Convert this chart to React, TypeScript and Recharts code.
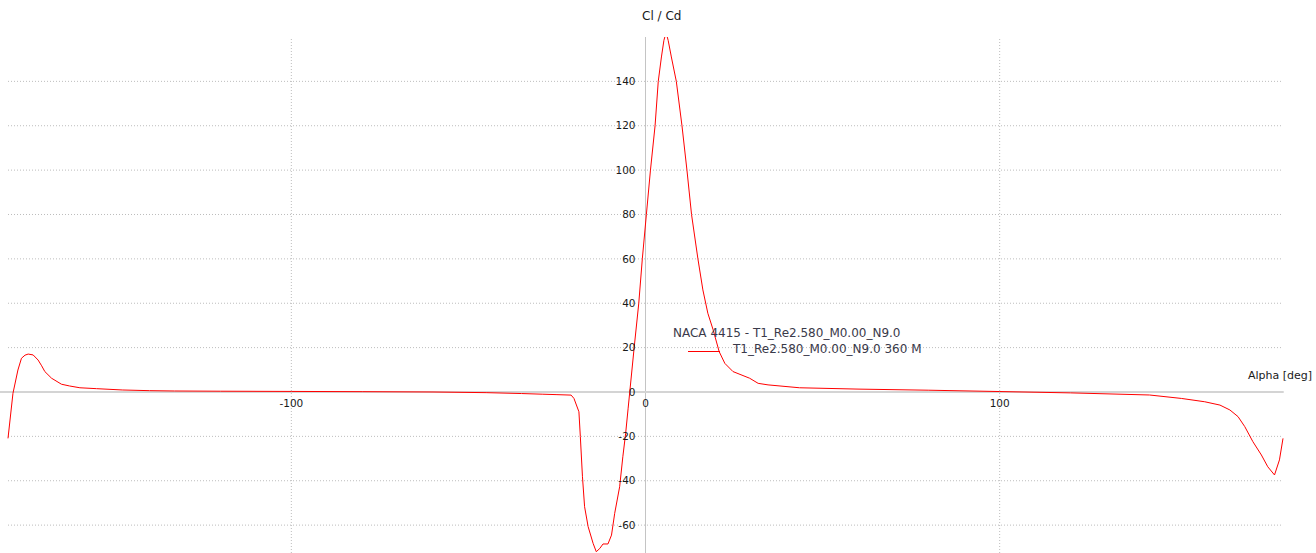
import React from 'react'
import { Line, LineChart, ReferenceDot, ReferenceLine, XAxis, YAxis } from 'recharts'

const alpha = [
    -180, -178.6, -177.2, -176.2, -175.2, -174.3, -172.9, -171.5, -170.5, -169.6, -167.7, -164.9, -162.6, -159.7, -155, -147.6,
    -140, -133, -120, -100, -80, -60, -45, -35, -29, -25, -21, -20.2, -18.8, -18.4, -17.8, -17.2, -16.2,
    -14.8, -13.9, -12.9, -12, -10.6, -9.6, -8.7, -7.3, -6.4, -5.6, -4.9, -3.2, -1.9, -0.9, 0.25, 1.4,
    2.7, 3.6, 4.5, 5.2, 5.8, 6.4, 7.3, 8.7, 10.3, 11.7, 13, 14.8, 16.2, 17.6, 19.1, 20.8, 22.4, 24.7,
    29.4, 31.8, 34.6, 43.5, 60, 80, 100, 120, 142.3, 151.3, 157.9, 162.2, 165, 167.3, 169.2, 171.5, 173.9,
    175.7, 177.6, 179, 180,
]
const clcd = [
    -20.9, -0.6, 9.9, 15.2, 16.6, 17.1, 16.7, 14.4, 11.8, 9.2, 6.2, 3.5, 2.7, 1.9, 1.5, 0.9,
    0.6, 0.45, 0.35, 0.25, 0.15, 0, -0.3, -0.7, -1.0, -1.2, -1.4, -2.9, -8.9, -20.1, -38.2, -51.7, -60.7,
    -68.2, -72, -70.5, -68.5, -68.5, -64.5, -54.7, -42.7, -29.2, -18.6, -7.3, 20, 40, 60, 80, 100,
    120, 140, 151, 158.5, 162, 158.5, 151, 140, 120, 100, 80, 60, 46, 35.5, 28, 18.2, 12.9, 9.2,
    6.2, 3.9, 3.2, 1.9, 1.3, 0.8, 0.2, -0.4, -1.35, -2.9, -4.4, -5.9, -8.1, -11.1, -15.6, -22.4, -28.4,
    -33.7, -37.4, -30.6, -20.9,
]
const yTicks = [-60, -40, -20, 0, 20, 40, 60, 80, 100, 120, 140]
const xTicks = [-100, 0, 100]
const xGrid = [-100, 100]

const data = alpha.map((a, i) => ({ alpha: a, clcd: clcd[i] }))

const FONT = 'Tahoma, "DejaVu Sans", sans-serif'
const GRID = '#bdbdbd'

const App: React.FC = () => {
    return (
        <div style={{ position: 'fixed', left: 0, top: 0, width: 1316, height: 553, background: '#fff' }}>
            <LineChart
                width={1316}
                height={553}
                data={data}
                margin={{ top: 37, right: 33, left: 8, bottom: 0 }}
            >
                <XAxis dataKey="alpha" type="number" domain={[-180, 180]} hide />
                <YAxis type="number" domain={[-72.57, 160]} allowDataOverflow hide />
                {yTicks.filter(v => v !== 0).map(v => (
                    <ReferenceLine key={`gy${v}`} y={v} stroke={GRID} strokeDasharray="1 2" />
                ))}
                {xGrid.map(v => (
                    <ReferenceLine key={`gx${v}`} x={v} stroke={GRID} strokeDasharray="1 2" />
                ))}
                <ReferenceLine x={0} stroke="#c4c4c4" />
                <ReferenceLine
                    segment={[{ x: -182.3, y: 0 }, { x: 180.2, y: 0 }]}
                    ifOverflow="visible"
                    stroke="#d4d4d4"
                    strokeWidth={2}
                />
                {yTicks.map(v => (
                    <ReferenceDot
                        key={`ly${v}`}
                        x={0}
                        y={v}
                        r={0}
                        stroke="none"
                        label={{ value: String(v), position: 'left', offset: 10, fontSize: 10.5, fill: '#1a1a1a', fontFamily: FONT }}
                    />
                ))}
                {xTicks.map(v => (
                    <ReferenceDot
                        key={`lx${v}`}
                        x={v}
                        y={0}
                        r={0}
                        stroke="none"
                        label={{ value: String(v), position: 'bottom', offset: 8, fontSize: 10.5, fill: '#1a1a1a', fontFamily: FONT }}
                    />
                ))}
                <Line
                    type="linear"
                    dataKey="clcd"
                    stroke="#ff0000"
                    strokeWidth={1}
                    dot={false}
                    isAnimationActive={false}
                />
            </LineChart>
            <div style={{ position: 'absolute', left: 642, top: 9, fontFamily: FONT, fontSize: 12, color: '#1a1a1a' }}>Cl / Cd</div>
            <div style={{ position: 'absolute', left: 1248, top: 369, fontFamily: FONT, fontSize: 11, color: '#1a1a1a' }}>Alpha [deg]</div>
            <div style={{ position: 'absolute', left: 673, top: 326, fontFamily: '"DejaVu Sans", sans-serif', fontSize: 12, color: '#3a3a4a', whiteSpace: 'nowrap' }}>
                NACA 4415 - T1_Re2.580_M0.00_N9.0
            </div>
            <div style={{ position: 'absolute', left: 688, top: 351, width: 32, height: 1, background: '#ff0000' }} />
            <div style={{ position: 'absolute', left: 733, top: 342, fontFamily: '"DejaVu Sans", sans-serif', fontSize: 12, color: '#3a3a4a', whiteSpace: 'nowrap' }}>
                T1_Re2.580_M0.00_N9.0 360 M
            </div>
        </div>
    )
}

export default App
